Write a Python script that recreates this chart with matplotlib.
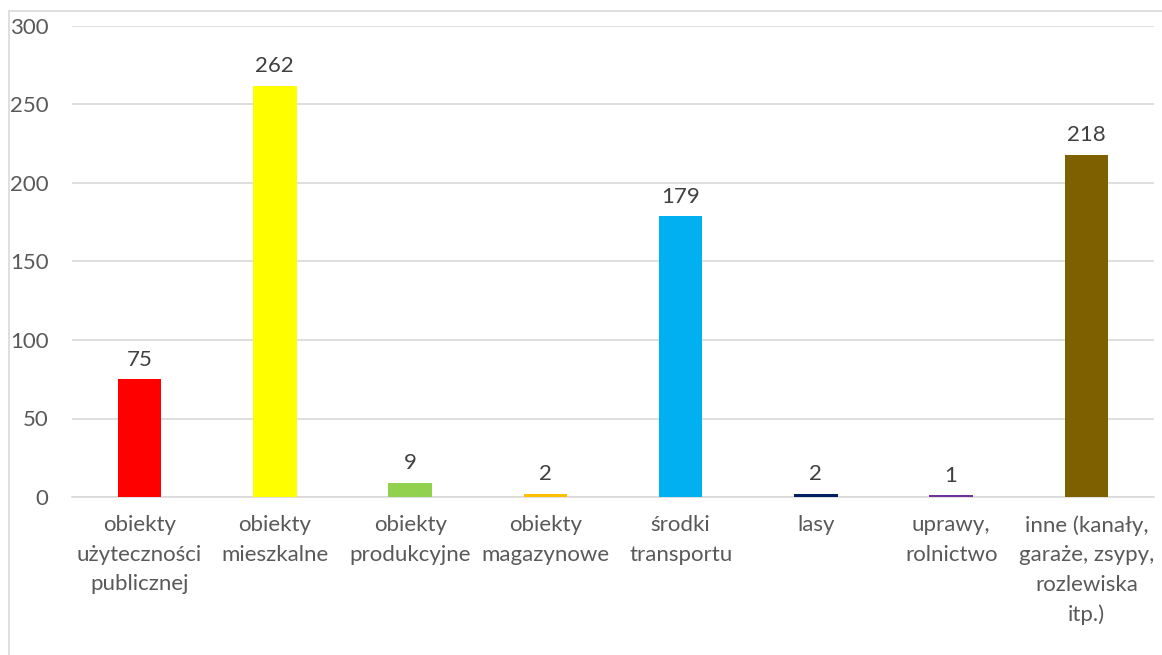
import matplotlib.pyplot as plt
from matplotlib.patches import Rectangle

categories = ['obiekty\nużyteczności\npublicznej', 'obiekty\nmieszkalne', 'obiekty\nprodukcyjne',
              'obiekty\nmagazynowe', 'środki\ntransportu', 'lasy', 'uprawy,\nrolnictwo',
              'inne (kanały,\ngaraże, zsypy,\nrozlewiska\nitp.)']
values = [75, 262, 9, 2, 179, 2, 1, 218]
colors = ['#FF0000', '#FFFF00', '#92D050', '#FFC000', '#00B0F0', '#002060', '#7030A0', '#7F6000']

plt.rcParams['font.family'] = ['Lato', 'DejaVu Sans']

fig = plt.figure(figsize=(11.62, 6.55), dpi=100)
ax = fig.add_axes([72 / 1162, 1 - 497 / 655, (1154 - 72) / 1162, (497 - 26) / 655])

x = range(len(values))
bars = ax.bar(x, values, width=0.32, color=colors, zorder=3)
for xi, v in zip(x, values):
    ax.text(xi, v + 6, str(v), ha='center', va='bottom', fontsize=16, color='#404040')

ax.set_xlim(-0.5, len(values) - 0.5)
ax.set_ylim(0, 300)
ax.set_yticks(range(0, 301, 50))
ax.yaxis.grid(True, color='#D9D9D9', linewidth=1.2, zorder=0)
for s in ['top', 'right', 'left']:
    ax.spines[s].set_visible(False)
ax.spines['bottom'].set_color('#D9D9D9')
ax.spines['bottom'].set_linewidth(1.2)
ax.tick_params(axis='both', length=0, labelsize=16, colors='#595959')
ax.tick_params(axis='y', pad=17)
ax.tick_params(axis='x', pad=13)
ax.set_xticks(list(x))
ax.set_xticklabels(categories, linespacing=1.6)

# chart border
fig.patches.append(Rectangle((9 / 1162, -0.1), 1.2, 1 - 11 / 655 + 0.1, transform=fig.transFigure,
                             fill=False, edgecolor='#D9D9D9', linewidth=1.2, zorder=0))

plt.savefig('out.png')
